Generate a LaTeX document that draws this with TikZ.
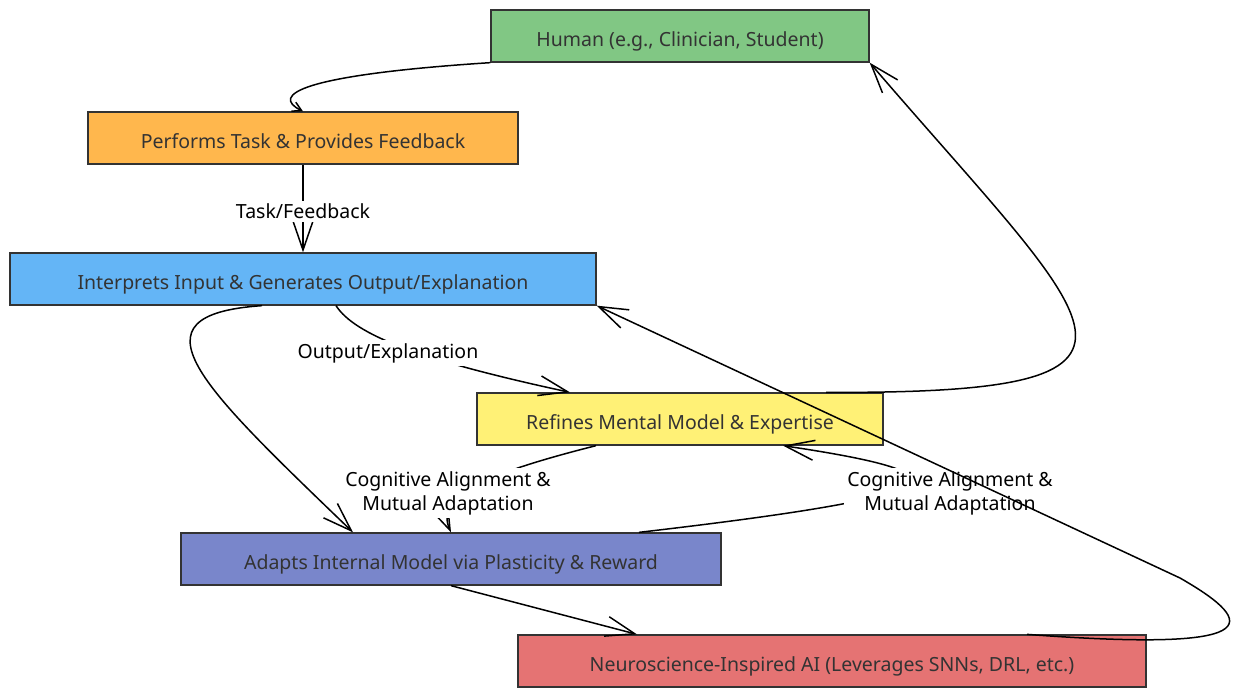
\documentclass[tikz,border=0pt]{standalone}
\usepackage{fontspec}
\setmainfont{Noto Sans}
\usetikzlibrary{arrows.meta}
\definecolor{humangreen}{HTML}{81C784}
\definecolor{taskorange}{HTML}{FFB74D}
\definecolor{aiblue}{HTML}{64B5F6}
\definecolor{modelyellow}{HTML}{FFF176}
\definecolor{adaptindigo}{HTML}{7986CB}
\definecolor{neurored}{HTML}{E57373}
\definecolor{boxline}{HTML}{333333}
\tikzset{
  box/.style={rectangle, draw=boxline, line width=1.3pt, minimum height=52pt, inner sep=2pt, align=center, text=boxline, text height=21pt, text depth=0pt, font=\fontsize{19.5}{23}\selectfont},
  humanbox/.style={box, fill=humangreen, minimum width=378pt},
  taskbox/.style={box, fill=taskorange, minimum width=430pt},
  aibox/.style={box, fill=aiblue, minimum width=586pt},
  modelbox/.style={box, fill=modelyellow, minimum width=406pt},
  adaptbox/.style={box, fill=adaptindigo, minimum width=540pt},
  neurobox/.style={box, fill=neurored, minimum width=628pt},
  lbl/.style={fill=white, inner sep=3pt, align=center, font=\fontsize{19.5}{24}\selectfont},
  arr/.style={-{Straight Barb[length=29pt, width=20pt]}, line width=1.5pt},
  smallarr/.style={-{Straight Barb[length=9pt, width=10pt]}, line width=1.5pt}
}

\begin{document}
\begin{tikzpicture}[x=1pt, y=-1pt]
\useasboundingbox (0,0) rectangle (1238,698);
\node[humanbox] (human) at (680,36) {Human (e.g., Clinician, Student)};
\node[taskbox] (task) at (303,138) {Performs Task \& Provides Feedback};
\node[aibox] (interp) at (303,279) {Interprets Input \& Generates Output/Explanation};
\node[modelbox] (refine) at (680,419) {Refines Mental Model \& Expertise};
\node[adaptbox] (adapt) at (451,559) {Adapts Internal Model via Plasticity \& Reward};
\node[neurobox] (neuro) at (832,661) {Neuroscience-Inspired AI (Leverages SNNs, DRL, etc.)};

% human loop
\draw[smallarr] (human.south west) .. controls (300,75) and (270,95) .. (task.north);
\draw[arr] (task.south) -- node[lbl, pos=0.53] {Task/Feedback} (interp.north);
\draw[arr] ([xshift=33pt]interp.south) .. controls (355,335) and (420,360) .. ([xshift=-110pt]refine.north);
\draw[arr] ([xshift=-84pt]refine.south) .. controls (480,475) and (435,497) .. (adapt.north);
\draw[arr] ([xshift=188pt]adapt.north) .. controls (960,495) and (980,475) .. ([xshift=103pt]refine.south);
\draw[arr] ([xshift=146pt]refine.north) .. controls (1200,394) and (1101,332) .. (human.south east);
\draw[arr] (adapt.south) -- ([xshift=-195pt]neuro.north);

% edge labels
\node[lbl] (outlbl) at (388,353) {Output/Explanation};
\node[lbl] (alignl) at (448,493) {Cognitive Alignment \&\\Mutual Adaptation};
\node[lbl] (alignr) at (950,493) {Cognitive Alignment \&\\Mutual Adaptation};

% drawn on top of the labels
\draw[arr] ([xshift=-41pt]interp.south) .. controls (125,315) and (200,385) .. ([xshift=-98pt]adapt.north);
\coordinate (turn) at (1180,578);
\draw[arr] ([xshift=195pt]neuro.north) .. controls (1262,652) and (1262,625) .. (turn) -- (interp.south east);
\end{tikzpicture}
\end{document}
